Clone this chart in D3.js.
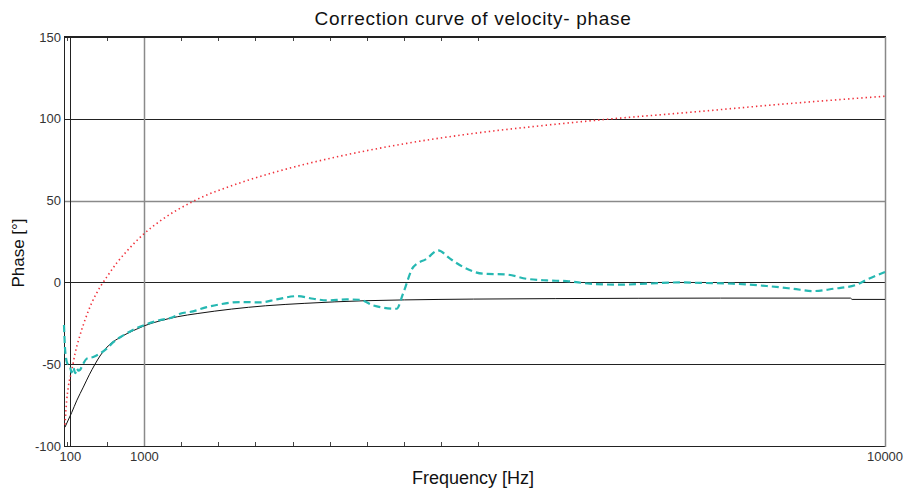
<html>
<head>
<meta charset="utf-8">
<title>Correction curve of velocity- phase</title>
<style>
  body { margin: 0; background: #fff; }
  text { font-family: "Liberation Sans", Arial, sans-serif; }
</style>
</head>
<body>
<script src="https://cdn.jsdelivr.net/npm/d3@7"></script>
<script>
    // data (frequency in Hz, phase in degrees)
    var redFreq = [35, 56, 75, 117, 157, 217, 278, 360, 460, 542, 663, 785, 990, 1190, 1615, 2160, 2560, 2980, 3380, 4190, 4990, 5810, 6620, 7590, 8810, 10000];
    var redPhase = [-87, -72, -64, -54, -43.5, -32.4, -23, -12.5, -3, 3.2, 11.8, 19, 29.5, 37.5, 50.1, 60.8, 67, 72.6, 77.2, 85, 91, 95.7, 99.7, 103.8, 109.2, 113.8];

    var blackFreq = [35, 80, 117, 180, 258, 330, 400, 460, 520, 600, 700, 800, 900, 1000, 1190, 1400, 1650, 2060, 2470, 2950, 3680, 4160, 5000, 6000, 7000, 8000, 9580, 9600, 10000];
    var blackPhase = [-88.5, -83.5, -79.5, -72, -64, -56.5, -50, -45, -41, -37, -33.8, -31, -28.7, -26.5, -23.5, -21, -19, -16.3, -14.3, -12.8, -11.2, -10.7, -10.2, -9.9, -9.7, -9.6, -9.6, -10.4, -10.4];

    var cyanFreq = [23, 35, 47, 59, 96, 115, 136, 160, 177, 200, 217, 254, 299, 379, 460, 542, 622, 744, 865, 987, 1190, 1351, 1433, 1591, 1757, 1919, 2162, 2405, 2608, 2851, 3053, 3215, 3458, 3620, 3782, 4066, 4143, 4268, 4431, 4571, 4714, 4875, 5118, 5403, 5646, 5889, 6132, 6415, 6780, 7104, 7504, 7752, 8152, 8562, 8885, 9128, 9371, 9655, 9777, 10000];
    var cyanPhase = [-26, -40, -46, -49, -51.5, -55, -52, -55.5, -52.6, -54, -53.5, -50, -46.6, -45.6, -43.5, -40.5, -36.5, -32.4, -28.9, -26.3, -23, -21.2, -19.2, -17.7, -15.1, -13.4, -12, -12.2, -10.4, -8.4, -10, -11, -10.4, -10.6, -14.1, -16.1, -6.9, 9.4, 14.5, 19.6, 14.5, 9.4, 5.3, 4.8, 2.2, 1.2, 0.8, -0.8, -1.4, -0.8, 0, -0.3, -0.8, -2.2, -3.9, -5.3, -3.9, -1.4, 1.6, 6.3];

    var xLabels = [100, 1000, 10000];
    var xGrid = [100, 1000];
    var xMinor = [55, 550, 1450, 1900, 2350, 2800, 3250, 3700, 4150, 4600, 5050];
    var yTicks = [150, 100, 50, 0, -50, -100];
    var yGrid = [100, 50, 0, -50];

    var width = 909, height = 491;
    var svg = d3.select('body').append('svg')
            .attr('width', width)
            .attr('height', height);
    var padding = {left: 64, right: 24, top: 37, bottom: 45};

    var xScale = d3.scaleLinear()
            .domain([23, 10000])
            .range([padding.left, width - padding.right]);
    var yScale = d3.scaleLinear()
            .domain([-100, 150])
            .range([height - padding.bottom, padding.top]);

    var x0 = xScale.range()[0], x1 = xScale.range()[1];
    var y0 = yScale.range()[1], y1 = yScale.range()[0];

    // grid lines
    svg.selectAll('.hgrid').data(yGrid).enter().append('line')
            .attr('x1', x0).attr('x2', x1)
            .attr('y1', function (d) { return Math.round(yScale(d)) + 0.5; })
            .attr('y2', function (d) { return Math.round(yScale(d)) + 0.5; })
            .attr('stroke', function (d) { return d == 50 ? '#8a8a8a' : '#222'; })
            .attr('stroke-width', function (d) { return d == 50 ? 1.5 : 1; });
    svg.selectAll('.vgrid').data(xGrid).enter().append('line')
            .attr('y1', y0).attr('y2', y1)
            .attr('x1', function (d) { return Math.round(xScale(d)) + 0.5; })
            .attr('x2', function (d) { return Math.round(xScale(d)) + 0.5; })
            .attr('stroke', function (d) { return d == 1000 ? '#8a8a8a' : '#222'; })
            .attr('stroke-width', function (d) { return d == 1000 ? 1.5 : 1; });

    // minor ticks top and bottom
    svg.selectAll('.tickb').data(xMinor).enter().append('line')
            .attr('x1', function (d) { return Math.round(xScale(d)) + 0.5; })
            .attr('x2', function (d) { return Math.round(xScale(d)) + 0.5; })
            .attr('y1', y1).attr('y2', y1 - 4)
            .attr('stroke', '#444');
    svg.selectAll('.tickt').data(xMinor).enter().append('line')
            .attr('x1', function (d) { return Math.round(xScale(d)) + 0.5; })
            .attr('x2', function (d) { return Math.round(xScale(d)) + 0.5; })
            .attr('y1', y0).attr('y2', y0 + 4)
            .attr('stroke', '#444');

    // frame
    svg.append('line').attr('x1', x0 + 0.5).attr('x2', x0 + 0.5).attr('y1', y0).attr('y2', y1 + 1).attr('stroke', '#222');
    svg.append('line').attr('x1', x0).attr('x2', x1 + 1).attr('y1', y0).attr('y2', y0).attr('stroke', '#222').attr('stroke-width', 2);
    svg.append('line').attr('x1', x0).attr('x2', x1 + 1).attr('y1', y1 + 0.5).attr('y2', y1 + 0.5).attr('stroke', '#222');
    svg.append('line').attr('x1', x1 + 0.5).attr('x2', x1 + 0.5).attr('y1', y0).attr('y2', y1 + 1).attr('stroke', '#888').attr('stroke-width', 1.5);

    // curves
    function lineOf(fr, ph) {
        return d3.line()
                .x(function (d, i) { return xScale(fr[i]); })
                .y(function (d) { return yScale(d); })
                .curve(d3.curveMonotoneX)(ph);
    }
    svg.append('path').attr('d', lineOf(blackFreq, blackPhase))
            .attr('fill', 'none').attr('stroke', '#111').attr('stroke-width', 1);
    svg.append('path').attr('d', lineOf(redFreq, redPhase))
            .attr('fill', 'none').attr('stroke', '#f0303a').attr('stroke-width', 1.6)
            .attr('stroke-dasharray', '1.4,3');
    svg.append('path').attr('d', lineOf(cyanFreq, cyanPhase))
            .attr('fill', 'none').attr('stroke', '#26b8b2').attr('stroke-width', 2.2)
            .attr('stroke-dasharray', '7,4');

    // tick labels
    svg.selectAll('.ylab').data(yTicks).enter().append('text')
            .attr('x', x0 - 3)
            .attr('y', function (d) { return yScale(d) + 4.5; })
            .attr('text-anchor', 'end')
            .attr('font-size', 13)
            .attr('fill', '#333')
            .text(function (d) { return d; });
    svg.selectAll('.xlab').data(xLabels).enter().append('text')
            .attr('x', function (d) { return xScale(d); })
            .attr('y', 461)
            .attr('text-anchor', 'middle')
            .attr('font-size', 13)
            .attr('fill', '#333')
            .text(function (d) { return d; });

    // titles
    svg.append('text').attr('x', 473).attr('y', 25)
            .attr('text-anchor', 'middle').attr('font-size', 19).attr('fill', '#111')
            .attr('letter-spacing', 0.7)
            .text('Correction curve of velocity- phase');
    svg.append('text').attr('x', 473).attr('y', 484)
            .attr('text-anchor', 'middle').attr('font-size', 18).attr('fill', '#111')
            .text('Frequency [Hz]');
    svg.append('text')
            .attr('transform', 'translate(24,253) rotate(-90)')
            .attr('text-anchor', 'middle').attr('font-size', 17).attr('fill', '#111')
            .text('Phase [°]');
</script>
</body>
</html>
